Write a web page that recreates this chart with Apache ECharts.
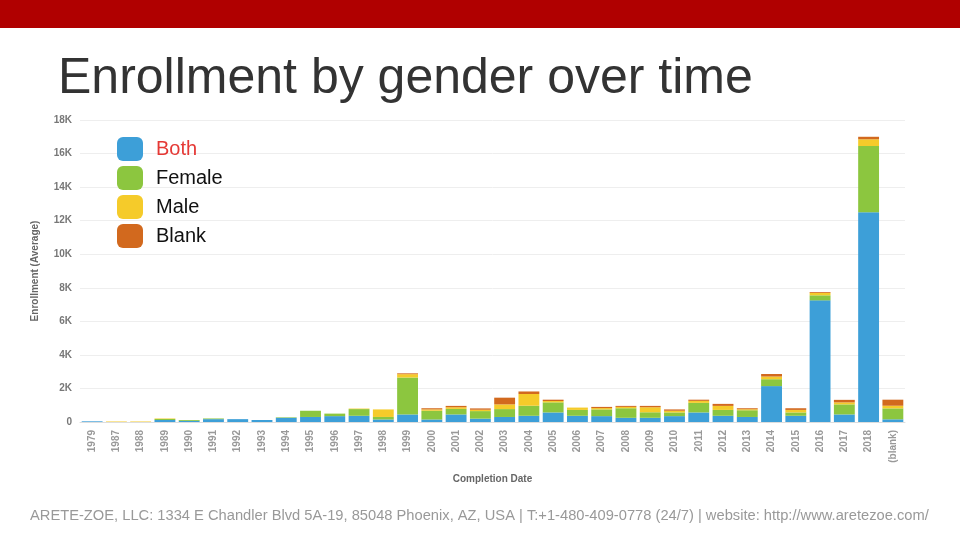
<!DOCTYPE html>
<html><head><meta charset="utf-8">
<script src="https://cdn.jsdelivr.net/npm/echarts@6/dist/echarts.min.js"></script>
<style>html,body{margin:0;padding:0;background:#fff}#c{width:960px;height:540px}</style>
</head><body><div id="c"></div>
<script>
const categories = ['1979','1987','1988','1989','1990','1991','1992','1993','1994','1995','1996','1997','1998','1999','2000','2001','2002','2003','2004','2005','2006','2007','2008','2009','2010','2011','2012','2013','2014','2015','2016','2017','2018','(blank)'];
const both   = [0.04,0,0,0.12,0.07,0.17,0.17,0.12,0.25,0.3,0.35,0.37,0.15,0.45,0.15,0.45,0.2,0.3,0.37,0.57,0.37,0.35,0.25,0.25,0.35,0.57,0.37,0.3,2.14,0.37,7.25,0.45,12.5,0.16].map(v=>v*1000);
const female = [0,0,0,0.06,0.05,0.04,0,0,0.03,0.37,0.15,0.4,0.15,2.2,0.52,0.33,0.45,0.47,0.6,0.6,0.35,0.4,0.57,0.33,0.22,0.57,0.35,0.4,0.41,0.2,0.3,0.6,3.95,0.65].map(v=>v*1000);
const male   = [0,0.03,0.03,0.03,0,0,0,0,0,0,0,0.03,0.45,0.2,0.08,0.1,0.08,0.28,0.7,0.08,0.14,0.08,0.08,0.3,0.1,0.12,0.24,0.06,0.16,0.15,0.15,0.12,0.4,0.16].map(v=>v*1000);
const blank  = [0,0,0,0,0,0,0,0,0,0,0,0,0,0.05,0.07,0.08,0.08,0.4,0.15,0.08,0,0.07,0.06,0.08,0.08,0.07,0.12,0.06,0.15,0.1,0.05,0.15,0.15,0.36].map(v=>v*1000);
const yTicks = ['0','2K','4K','6K','8K','10K','12K','14K','16K','18K'];

const chart = echarts.init(document.getElementById('c'));
const mk = (name, data, color) => ({name, type:'bar', stack:'s', data, barWidth:'86%', itemStyle:{color}});
chart.setOption({
  animation:false,
  graphic:[
    {type:'rect', shape:{x:0,y:0,width:960,height:28}, style:{fill:'#b00000'}},
    {type:'text', left:58, top:54, style:{text:'Enrollment by gender over time', font:'50px "Liberation Sans", Arial', fill:'#333'}},
    {type:'text', left:30, top:508, style:{text:'ARETE-ZOE, LLC: 1334 E Chandler Blvd 5A-19, 85048 Phoenix, AZ, USA | T:+1-480-409-0778 (24/7) | website: http://www.aretezoe.com/', font:'14.7px "Liberation Sans", Arial', fill:'#999'}}
  ],
  legend:{
    orient:'vertical', left:112, top:132, itemWidth:26, itemHeight:24, itemGap:5, icon:'roundRect',
    data:['Both','Female','Male','Blank'],
    formatter: n => n==='Both' ? '{r|Both}' : n,
    textStyle:{fontSize:20, color:'#111', fontFamily:'Liberation Sans', padding:[0,0,0,8], rich:{r:{color:'#e53935', fontSize:20, fontFamily:'Liberation Sans'}}}
  },
  grid:{left:80, right:55, top:120, bottom:118},
  xAxis:{type:'category', data:categories, name:'Completion Date', nameLocation:'middle', nameGap:52,
    nameTextStyle:{fontSize:10, fontWeight:'bold', color:'#666'},
    axisTick:{show:false}, axisLine:{lineStyle:{color:'#ddd'}},
    axisLabel:{rotate:90, fontSize:10, fontWeight:'bold', color:'#999', interval:0}},
  yAxis:{type:'value', min:0, max:18000, interval:2000, name:'Enrollment (Average)', nameLocation:'middle', nameGap:40,
    nameTextStyle:{fontSize:10, fontWeight:'bold', color:'#666'},
    splitLine:{lineStyle:{color:'#eee'}},
    axisLabel:{fontSize:10, fontWeight:'bold', color:'#777', formatter:v=>yTicks[v/2000]}},
  series:[mk('Both',both,'#3d9fd8'), mk('Female',female,'#8cc63f'), mk('Male',male,'#f5cb2a'), mk('Blank',blank,'#d2691e')]
});
</script></body></html>
